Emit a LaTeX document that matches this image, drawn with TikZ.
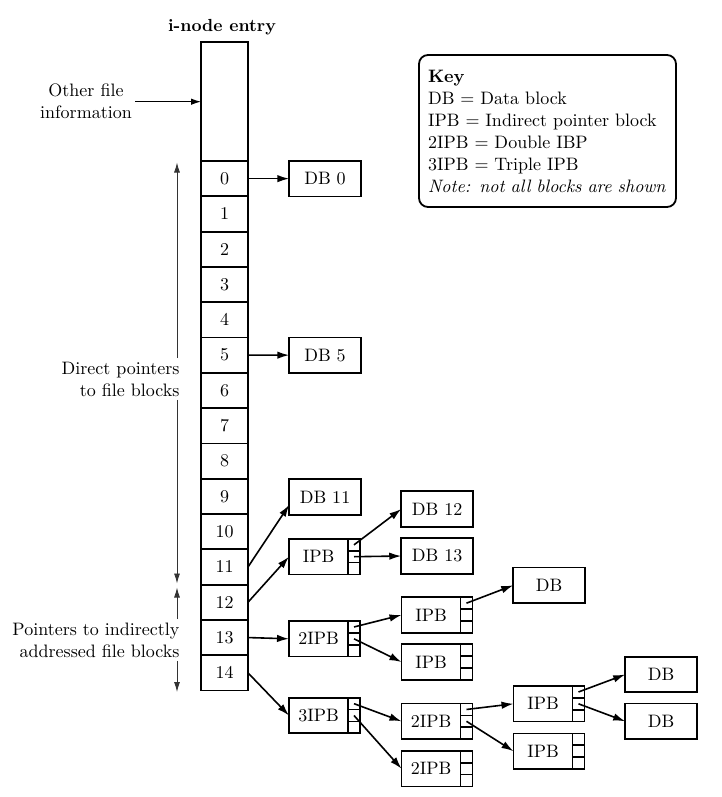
\documentclass[tikz,border=0pt]{standalone}
\usepackage{fontspec}
\setmainfont{lmroman10-regular.otf}[BoldFont=lmroman10-bold.otf, ItalicFont=lmroman10-italic.otf]
\usetikzlibrary{positioning,calc,arrows.meta}

\tikzset{
  box/.style={draw, line width=1.8pt, inner sep=0pt, outer sep=0pt, minimum height=35.5pt},
  cell/.style={box, minimum width=47pt, minimum height=35.3pt},
  datablk/.style={box, minimum width=71.5pt},
  ptrmain/.style={box, minimum width=59pt},
  slots/.style={box, minimum width=12pt, path picture={
      \draw[line width=1.6pt]
        ($(path picture bounding box.north west)!1/3!(path picture bounding box.south west)$) --
        ($(path picture bounding box.north east)!1/3!(path picture bounding box.south east)$);
      \draw[line width=1.6pt]
        ($(path picture bounding box.north west)!2/3!(path picture bounding box.south west)$) --
        ($(path picture bounding box.north east)!2/3!(path picture bounding box.south east)$);
    }},
  link/.style={line width=1.6pt, -{Latex[length=12pt,width=7.5pt]}},
  span/.style={line width=0.9pt, draw=black!80, -{Latex[length=10pt,width=6pt]}},
}

% pointer block: name, position, text
\newcommand{\ptrblk}[3]{%
  \node[ptrmain] (#1) at (#2) {#3};
  \node[slots, right=0pt of #1] (#1s) {};
  \foreach \k in {1,2,3}
    \coordinate (#1s\k) at ($(#1s.north)!{(2*\k-1)/6}!(#1s.south)$);
}

\begin{document}
\begin{tikzpicture}[x=1pt, y=-1pt, font=\fontsize{18}{22}\selectfont]
  \useasboundingbox (0,0) rectangle (722,797);

  % i-node entry
  \node[font=\fontsize{17.5}{22}\selectfont\bfseries] (title) at (222,27) {i-node entry};
  \node[box, minimum width=47pt, minimum height=118.7pt] (info) at (224.5,101.7) {};
  \foreach \i in {0,...,14}
    \node[cell] (c\i) at (224.5,{178.65+35.3*\i}) {\i};

  \node[align=center] (other) at (86,101.7) {Other file\\information};
  \draw[link, line width=1.1pt, -{Latex[length=10pt,width=6.5pt]}] (other.east) -- (info.west);

  % key
  \node[draw, line width=1.8pt, rounded corners=9pt, minimum width=257pt, minimum height=152pt,
        text width=239pt, inner xsep=9pt, align=left] (key) at (547.5,131)
    {\textbf{Key}\\DB = Data block\\IPB = Indirect pointer block\\2IPB = Double IBP\\3IPB = Triple IPB\\\textit{Note: not all blocks are shown}};

  % spans on the left
  \coordinate (dtop) at (177,162.5);
  \coordinate (dbot) at (177,583.5);
  \coordinate (itop) at (177,587.5);
  \coordinate (ibot) at (177,692);
  \node[anchor=east, align=right] (dlbl) at (183,379) {Direct pointers\\to file blocks};
  \node[anchor=east, align=right] (ilbl) at (183,640) {Pointers to indirectly\\addressed file blocks};
  \draw[span] (dlbl.north -| dtop) -- (dtop);
  \draw[span] (dlbl.south -| dtop) -- (dbot);
  \draw[span] (ilbl.north -| itop) -- (itop);
  \draw[span] (ilbl.south -| itop) -- (ibot);

  % data and pointer blocks
  \node[datablk] (db0) at (325,178.65) {DB 0};
  \node[datablk] (db5) at (325,355.15) {DB 5};
  \node[datablk] (db11) at (325,497) {DB 11};
  \ptrblk{ipbA}{318.5,556.7}{IPB}
  \node[datablk] (db12) at (437,509) {DB 12};
  \node[datablk] (db13) at (437,556) {DB 13};
  \ptrblk{dipA}{318.5,638.8}{2IPB}
  \ptrblk{ipbB}{431,615}{IPB}
  \ptrblk{ipbC}{431,662}{IPB}
  \ptrblk{tipA}{318.5,715.5}{3IPB}
  \ptrblk{dipB}{431,721.3}{2IPB}
  \ptrblk{dipC}{431,768.7}{2IPB}
  \node[datablk] (dbA) at (549,585.3) {DB};
  \ptrblk{ipbD}{543,703.8}{IPB}
  \ptrblk{ipbE}{543,751.2}{IPB}
  \node[datablk] (dbB) at (661,674.5) {DB};
  \node[datablk] (dbC) at (661,721.3) {DB};

  % pointers
  \draw[link] (c0.east) -- (db0.west);
  \draw[link] (c5.east) -- (db5.west);
  \draw[link] (c11.east) -- ($(db11.south west)!.28!(db11.north west)$);
  \draw[link] (c12.east) -- (ipbA.west);
  \draw[link] (ipbAs1) -- (db12.west);
  \draw[link] (ipbAs2) -- (db13.west);
  \draw[link] (c13.east) -- (dipA.west);
  \draw[link] (dipAs1) -- (ipbB.west);
  \draw[link] (dipAs2) -- (ipbC.west);
  \draw[link] (c14.east) -- (tipA.west);
  \draw[link] (tipAs1) -- (dipB.west);
  \draw[link] (tipAs2) -- (dipC.west);
  \draw[link] (ipbBs1) -- (dbA.west);
  \draw[link] (dipBs1) -- (ipbD.west);
  \draw[link] (dipBs2) -- (ipbE.west);
  \draw[link] (ipbDs1) -- (dbB.west);
  \draw[link] (ipbDs2) -- (dbC.west);
\end{tikzpicture}
\end{document}
